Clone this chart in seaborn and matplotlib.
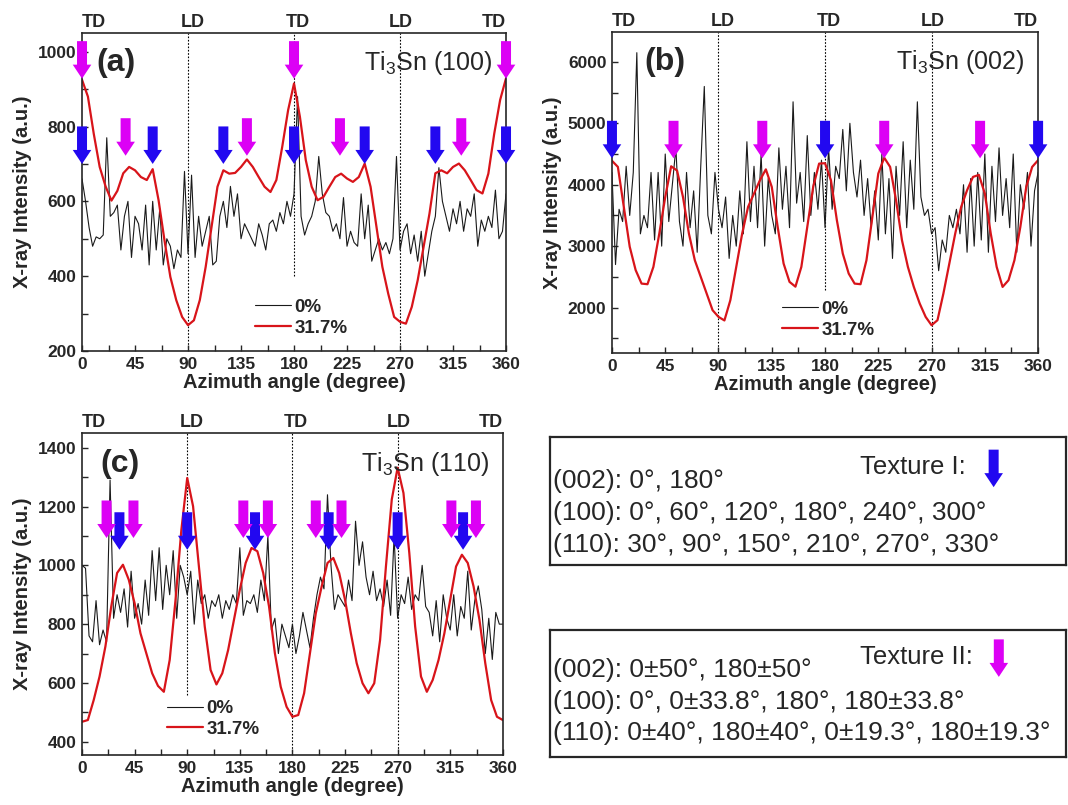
import numpy as np
import matplotlib
matplotlib.use('Agg')
import matplotlib.pyplot as plt
import matplotlib.transforms as mtransforms
from matplotlib.patches import Polygon
from matplotlib.ticker import MultipleLocator
import seaborn as sns

# ---- data ----
angle_raw = np.arange(0, 361, 3)     # 0% sample, sampled every 3 deg
angle_def = np.arange(0, 361, 5)     # 31.7% sample, sampled every 5 deg

# (a) Ti3Sn (100)
a_raw = [660, 600, 530, 480, 505, 500, 510, 770, 560, 570,
         590, 470, 560, 600, 450, 560, 540, 470, 590, 430,
         600, 470, 580, 430, 500, 480, 420, 470, 450, 680,
         460, 670, 450, 560, 480, 520, 560, 430, 440, 560,
         600, 530, 640, 560, 620, 500, 540, 520, 500, 480,
         540, 510, 470, 540, 550, 520, 570, 540, 600, 560,
         620, 880, 560, 510, 540, 560, 600, 720, 620, 570,
         560, 520, 540, 500, 610, 480, 520, 490, 480, 620,
         500, 590, 440, 470, 500, 470, 490, 460, 500, 720,
         470, 520, 540, 460, 510, 440, 520, 400, 460, 520,
         560, 690, 600, 560, 520, 580, 540, 600, 520, 580,
         560, 620, 480, 550, 520, 560, 530, 630, 500, 520,
         620]
a_def = [925, 880, 780, 692, 640, 602, 628, 675, 692, 683,
         665, 657, 686, 603, 496, 398, 336, 291, 269, 282,
         336, 425, 532, 639, 683, 674, 676, 692, 712, 692,
         665, 639, 625, 657, 746, 844, 915, 826, 710, 639,
         603, 612, 639, 665, 674, 661, 652, 665, 701, 639,
         532, 425, 353, 291, 278, 273, 318, 389, 478, 567,
         675, 683, 675, 692, 701, 683, 657, 630, 621, 674,
         781, 871, 929]

# (b) Ti3Sn (002)
b_raw = [4200, 2700, 3600, 3400, 4300, 3500, 4200, 6150, 3200, 3500,
         3300, 4200, 3100, 4200, 3000, 4500, 3400, 4000, 4600, 3400,
         3000, 4200, 3300, 3900, 2900, 4300, 5600, 3500, 3200, 4200,
         3600, 3300, 3800, 2800, 3500, 3000, 3900, 3200, 4700, 3400,
         4300, 3300, 4500, 3000, 4100, 3500, 3200, 4600, 3600, 4300,
         3300, 5350, 3700, 4200, 3400, 4800, 3500, 4200, 3600, 4400,
         3300, 4600, 3600, 4300, 4100, 4900, 3900, 5000, 4200, 3800,
         4400, 3500, 4100, 3300, 3900, 3100, 4500, 3200, 4100, 2800,
         4300, 3500, 4700, 3300, 4400, 3600, 5350, 3800, 3500, 3600,
         3200, 3300, 2600, 3100, 2900, 3500, 3300, 3600, 3200, 4000,
         2900, 4100, 3000, 4200, 3100, 4500, 2900, 4300, 3400, 4600,
         3500, 4100, 3300, 4500, 2900, 4000, 3600, 4200, 3000, 3900,
         4200]
b_def = [4390, 4290, 3640, 2990, 2610, 2390, 2380, 2662, 3205, 3800,
         4300, 4230, 3800, 3205, 2770, 2500, 2228, 1957, 1848, 1790,
         2119, 2662, 3205, 3640, 3856, 4073, 4250, 3965, 3313, 2716,
         2418, 2340, 2662, 3313, 3965, 4344, 4350, 4073, 3422, 2879,
         2553, 2390, 2380, 2770, 3476, 4182, 4440, 4290, 3748, 3096,
         2662, 2336, 2065, 1848, 1712, 1794, 2228, 2716, 3205, 3639,
         3910, 4127, 4160, 3856, 3205, 2662, 2336, 2445, 2770, 3313,
         3965, 4290, 4399]

# (c) Ti3Sn (110)
c_raw = [1000, 990, 760, 740, 880, 730, 780, 740, 1290, 820,
         900, 840, 920, 790, 980, 820, 870, 800, 950, 830,
         1050, 880, 1060, 850, 1000, 900, 1050, 820, 1000, 960,
         900, 980, 800, 950, 870, 900, 820, 880, 860, 900,
         820, 880, 850, 900, 870, 1060, 830, 880, 870, 900,
         840, 950, 880, 1100, 780, 820, 700, 800, 760, 720,
         800, 700, 760, 840, 780, 720, 820, 900, 960, 920,
         1240, 1000, 850, 900, 880, 860, 950, 880, 1150, 1000,
         1080, 960, 900, 980, 880, 920, 860, 950, 830, 1100,
         820, 900, 870, 960, 850, 900, 880, 1000, 860, 840,
         760, 880, 740, 900, 820, 780, 900, 760, 860, 820,
         980, 780, 880, 930, 850, 700, 820, 680, 840, 800,
         800]
c_def = [468, 474, 542, 622, 724, 860, 974, 1002, 951, 871,
         769, 701, 633, 590, 570, 678, 883, 1121, 1297, 1201,
         996, 792, 644, 595, 633, 712, 815, 917, 1008, 1059,
         1048, 974, 860, 701, 587, 519, 485, 491, 565, 701,
         837, 928, 1008, 1025, 974, 883, 769, 667, 599, 565,
         599, 746, 996, 1224, 1332, 1246, 1042, 792, 622, 570,
         610, 678, 769, 883, 996, 1036, 1008, 928, 815, 667,
         542, 485, 474]

# arrow positions (angle, tip intensity)
a_blue = [0, 60, 120, 180, 240, 300, 360]
a_mag_big = [0, 180, 360]
a_mag_small = [37, 140, 219, 322]
b_blue = [0, 180, 360]
b_mag = [52, 127, 230, 311]
c_blue = [32, 90, 148, 211, 270, 326]
c_mag = [21, 44, 138, 159, 200, 222, 316, 337]

tex1_lines = ["(002): 0\u00b0, 180\u00b0",
              "(100): 0\u00b0, 60\u00b0, 120\u00b0, 180\u00b0, 240\u00b0, 300\u00b0",
              "(110): 30\u00b0, 90\u00b0, 150\u00b0, 210\u00b0, 270\u00b0, 330\u00b0"]
tex2_lines = ["(002): 0\u00b150\u00b0, 180\u00b150\u00b0",
              "(100): 0\u00b0, 0\u00b133.8\u00b0, 180\u00b0, 180\u00b133.8\u00b0",
              "(110): 0\u00b140\u00b0, 180\u00b140\u00b0, 0\u00b119.3\u00b0, 180\u00b119.3\u00b0"]

BLUE = '#2208f0'
MAG = '#dc00f5'
RED = '#d8141a'

sns.set_style('ticks')
plt.rcParams['font.family'] = ['Liberation Sans', 'DejaVu Sans']
plt.rcParams['mathtext.fontset'] = 'custom'
plt.rcParams['mathtext.rm'] = 'Liberation Sans'
plt.rcParams['axes.linewidth'] = 1.2

fig = plt.figure(figsize=(10.68, 8.05), dpi=100)

# arrow shape in inches, tip at origin
ARROW = [(-0.05, 0.375), (0.05, 0.375), (0.05, 0.14), (0.093, 0.14),
         (0, 0), (-0.093, 0.14), (-0.05, 0.14)]


def draw_arrow(ax, x, y, color, trans=None):
    base = ax.transData if trans is None else trans
    tr = fig.dpi_scale_trans + mtransforms.ScaledTranslation(x, y, base)
    ax.add_patch(Polygon(ARROW, closed=True, transform=tr, fc=color,
                         ec='none', clip_on=False, zorder=6))


def panel(rect, raw, dev, ylim, ystep, letter, plane, letter_x, dotted, leg_xy):
    ax = fig.add_axes(rect)
    sns.lineplot(x=angle_raw, y=raw, ax=ax, color='#1a1a1a', lw=0.8, label='0%')
    sns.lineplot(x=angle_def, y=dev, ax=ax, color=RED, lw=1.6, label='31.7%')
    ax.set_xlim(0, 360)
    ax.set_ylim(*ylim)
    ax.xaxis.set_major_locator(MultipleLocator(45))
    ax.xaxis.set_minor_locator(MultipleLocator(22.5))
    ax.yaxis.set_major_locator(MultipleLocator(ystep))
    ax.yaxis.set_minor_locator(MultipleLocator(ystep / 2))
    ax.tick_params(which='both', direction='in', length=4, width=1,
                   top=False, right=False, labelsize=12.5, pad=4)
    plt.setp(ax.get_xticklabels() + ax.get_yticklabels(), fontweight='bold')
    ax.set_xlabel('Azimuth angle (degree)', fontsize=14.5, fontweight='bold', labelpad=1)
    ax.set_ylabel('X-ray Intensity (a.u.)', fontsize=14.5, fontweight='bold', labelpad=4)

    for xv, ymin in dotted:
        ax.axvline(xv, ymin=ymin, ymax=1, color='k', ls=(0, (1.5, 1.5)), lw=0.8, zorder=0)

    for xv, lab, ha in zip([0, 94, 183, 271, 360], ['TD', 'LD', 'TD', 'LD', 'TD'],
                           ['left', 'center', 'center', 'center', 'right']):
        ax.annotate(lab, xy=(xv, 1), xycoords=('data', 'axes fraction'),
                    xytext=(0, 1.5), textcoords='offset points', ha=ha, va='bottom',
                    fontsize=13, fontweight='bold')

    ax.text(letter_x, 0.905, letter, transform=ax.transAxes, fontsize=23,
            fontweight='bold', va='center', ha='left')
    ax.text(0.967, 0.905, r'Ti$_{\mathregular{3}}$Sn (' + plane + ')', transform=ax.transAxes,
            fontsize=18, va='center', ha='right')

    ax.legend(loc='lower left', bbox_to_anchor=leg_xy, frameon=False, borderpad=0,
              borderaxespad=0, handlelength=1.9, handletextpad=0.2, labelspacing=0.2,
              prop={'weight': 'bold', 'size': 13.5})
    return ax


ax_a = panel([0.0768, 0.564, 0.397, 0.395], a_raw, a_def, (200, 1050), 200,
             '(a)', '100', 0.035, [(90, 0), (180, 0.235), (270, 0)], (0.408, 0.045))
for xv in a_blue:
    draw_arrow(ax_a, xv, 700, BLUE)
for xv in a_mag_big:
    draw_arrow(ax_a, xv, 928, MAG)
for xv in a_mag_small:
    draw_arrow(ax_a, xv, 722, MAG)

ax_b = panel([0.573, 0.5615, 0.399, 0.399], b_raw, b_def, (1260, 6490), 1000,
             '(b)', '002', 0.077, [(90, 0), (180, 0.195), (270, 0)], (0.399, 0.045))
for xv in b_blue:
    draw_arrow(ax_b, xv, 4430, BLUE)
for xv in b_mag:
    draw_arrow(ax_b, xv, 4430, MAG)

ax_c = panel([0.0768, 0.0621, 0.394, 0.4], c_raw, c_def, (355, 1450), 200,
             '(c)', '110', 0.043, [(90, 0.186), (180, 0), (270, 0)], (0.202, 0.053))
for xv in c_blue:
    draw_arrow(ax_c, xv, 1053, BLUE)
for xv in c_mag:
    draw_arrow(ax_c, xv, 1093, MAG)

# ---- texture description boxes ----
for rect, title, lines, col, title_y, arrow_xy, line_ys in [
        ([0.515, 0.298, 0.483, 0.159], 'Texture I:', tex1_lines, BLUE, 0.766,
         (0.860, 0.609), [0.656, 0.406, 0.156]),
        ([0.515, 0.0596, 0.483, 0.158], 'Texture II:', tex2_lines, MAG, 0.787,
         (0.870, 0.63), [0.685, 0.433, 0.189])]:
    bx = fig.add_axes(rect)
    bx.set_xticks([])
    bx.set_yticks([])
    for s in bx.spines.values():
        s.set_linewidth(1.6)
    bx.text(0.6, title_y, title, transform=bx.transAxes, fontsize=18.5, va='center', ha='left')
    for txt, yy in zip(lines, line_ys):
        bx.text(0.006, yy, txt, transform=bx.transAxes, fontsize=19, va='center', ha='left')
    draw_arrow(bx, arrow_xy[0], arrow_xy[1], col, trans=bx.transAxes)

fig.savefig('out.png', dpi=100)
